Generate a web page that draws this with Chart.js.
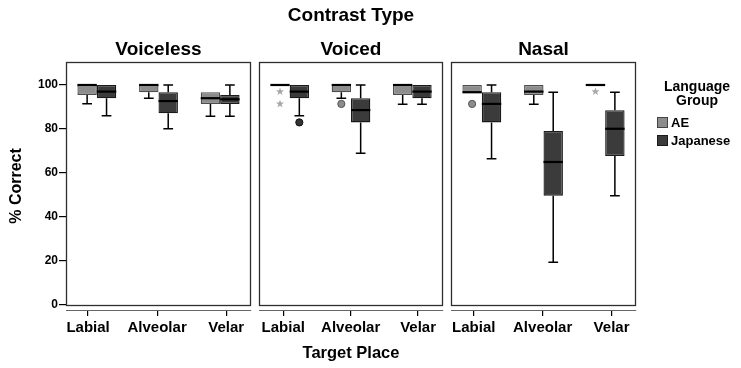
<!DOCTYPE html>
<html>
<head>
<meta charset="utf-8">
<script src="https://cdn.jsdelivr.net/npm/chart.js@4/dist/chart.umd.min.js"></script>
<style>
  html, body { margin: 0; padding: 0; background: #fff; }
  #wrap { position: relative; width: 741px; height: 368px; overflow: hidden;
          font-family: "Liberation Sans", Arial, sans-serif; color: #000; }
  #wrap canvas { position: absolute; left: 0; top: 0; }
  .lbl { position: absolute; font-weight: bold; white-space: nowrap; line-height: 1; }
  .ctr { transform: translateX(-50%); }
  .sw { position: absolute; width: 11px; height: 11px; box-sizing: border-box; }
</style>
</head>
<body>
<div id="wrap">
  <canvas id="panel0" width="741" height="368"></canvas>
  <canvas id="panel1" width="741" height="368"></canvas>
  <canvas id="panel2" width="741" height="368"></canvas>

  <div class="lbl ctr" style="left:351px; top:5px; font-size:19px;">Contrast Type</div>
  <div class="lbl ctr" style="left:351px; top:344px; font-size:16.5px;">Target Place</div>

  <div class="lbl ctr" style="left:697px; top:79px; font-size:14px;">Language</div>
  <div class="lbl ctr" style="left:697px; top:93px; font-size:14px;">Group</div>
  <div class="sw" style="left:657px; top:117px; background:#8c8c8c; border:1px solid #444;"></div>
  <div class="lbl" style="left:671px; top:116px; font-size:13px;">AE</div>
  <div class="sw" style="left:657px; top:135px; background:#3b3b3b; border:1px solid #1a1a1a;"></div>
  <div class="lbl" style="left:671px; top:134px; font-size:13px;">Japanese</div>
</div>

<script>
const contrasts = ['Voiceless', 'Voiced', 'Nasal'];
const places = ['Labial', 'Alveolar', 'Velar'];
const groups = ['AE', 'Japanese'];
const yTicks = [0, 20, 40, 60, 80, 100];

// Five-number summaries: one row per contrast type, one entry per target place
const aeMin = [[91.5, 94.0, 85.8], [100, 94.0, 91.2], [96.7, 91.2, 100]];
const aeQ1  = [[95.5, 96.7, 91.4], [100, 96.7, 95.5], [96.7, 95.5, 100]];
const aeMed = [[100, 100, 94.0], [100, 100, 100], [96.7, 97.0, 100]];
const aeQ3  = [[100, 100, 96.7], [100, 100, 100], [100, 100, 100]];
const aeMax = [[100, 100, 96.7], [100, 100, 100], [100, 100, 100]];

const jpMin = [[86.0, 80.1, 85.8], [86.0, 69.0, 91.2], [66.5, 19.4, 49.7]];
const jpQ1  = [[94.0, 87.1, 91.4], [94.0, 83.0, 94.0], [83.0, 49.7, 67.7]];
const jpMed = [[97.0, 92.7, 93.5], [97.0, 88.6, 97.0], [91.4, 65.0, 80.1]];
const jpQ3  = [[100, 96.7, 95.5], [100, 94.0, 100], [96.7, 79.1, 88.5]];
const jpMax = [[100, 100, 100], [100, 100, 100], [100, 96.7, 96.7]];

// Outliers (circles) and extreme values (stars): [contrast, place, value]
const aeOutliers = [[1, 1, 91.4], [2, 0, 91.4]];
const aeExtremes = [[1, 0, 97.0], [1, 0, 91.4], [2, 2, 97.0]];
const jpOutliers = [[1, 0, 83.0]];
const jpExtremes = [];

const FONT = '"Liberation Sans", Arial, sans-serif';
const groupStyle = [
  { fill: '#8c8c8c', border: '#4d4d4d', dot: '#8c8c8c', dotLine: '#555', star: '#a8a8a8' },
  { fill: '#3b3b3b', border: '#1a1a1a', dot: '#333', dotLine: '#111', star: '#555' }
];
const stats = [
  [aeMin, aeQ1, aeMed, aeQ3, aeMax],
  [jpMin, jpQ1, jpMed, jpQ3, jpMax]
];
const outliers = [aeOutliers, jpOutliers];
const extremes = [aeExtremes, jpExtremes];

// Horizontal placement of each panel on the shared page
const panelPlace = [
  { padLeft: 3,   padRight: 490, tickMin: -0.32, tickMax: 2.36 },
  { padLeft: 259, padRight: 298, tickMin: -0.36, tickMax: 2.37 },
  { padLeft: 451, padRight: 105, tickMin: -0.33, tickMax: 2.355 }
];

function drawStar(ctx, x, y, r, color) {
  ctx.save();
  ctx.beginPath();
  for (let i = 0; i < 10; i++) {
    const rad = i % 2 === 0 ? r : r * 0.42;
    const a = -Math.PI / 2 + i * Math.PI / 5;
    const px = x + rad * Math.cos(a), py = y + rad * Math.sin(a);
    i === 0 ? ctx.moveTo(px, py) : ctx.lineTo(px, py);
  }
  ctx.closePath();
  ctx.fillStyle = color;
  ctx.fill();
  ctx.restore();
}

function makePanel(p) {
  // panel frame (top of plot area down to the zero line) and the panel heading
  const framePlugin = {
    id: 'frame' + p,
    beforeDatasetsDraw(chart) {
      const { ctx, chartArea: a, scales: { y } } = chart;
      const y0 = y.getPixelForValue(0);
      ctx.save();
      ctx.strokeStyle = '#2e2e2e';
      ctx.lineWidth = 1.3;
      ctx.strokeRect(a.left + 0.5, a.top + 0.5, a.right - a.left - 1, y0 - a.top);
      ctx.fillStyle = '#000';
      ctx.font = 'bold 19px ' + FONT;
      ctx.textAlign = 'center';
      ctx.textBaseline = 'alphabetic';
      ctx.fillText(contrasts[p], (a.left + a.right) / 2, a.top - 7);
      ctx.restore();
    }
  };

  // whiskers, medians, outliers and extremes for each box
  const whiskerPlugin = {
    id: 'whiskers' + p,
    afterDatasetsDraw(chart) {
      const { ctx, scales: { y } } = chart;
      ctx.save();
      chart.data.datasets.forEach((ds, d) => {
        const meta = chart.getDatasetMeta(d);
        meta.data.forEach((bar, j) => {
          const [mn, q1, md, q3, mx] = stats[d].map(a => a[p][j]);
          const x = bar.x, w = bar.width, cap = w / 2;
          ctx.strokeStyle = '#000';
          ctx.lineWidth = 1.5;
          ctx.beginPath();
          if (mx > q3) {
            ctx.moveTo(x, y.getPixelForValue(q3));
            ctx.lineTo(x, y.getPixelForValue(mx));
            ctx.moveTo(x - cap / 2, y.getPixelForValue(mx));
            ctx.lineTo(x + cap / 2, y.getPixelForValue(mx));
          }
          if (mn < q1) {
            ctx.moveTo(x, y.getPixelForValue(q1));
            ctx.lineTo(x, y.getPixelForValue(mn));
            ctx.moveTo(x - cap / 2, y.getPixelForValue(mn));
            ctx.lineTo(x + cap / 2, y.getPixelForValue(mn));
          }
          ctx.stroke();
          ctx.lineWidth = 2.2;
          ctx.beginPath();
          ctx.moveTo(x - w / 2, y.getPixelForValue(md));
          ctx.lineTo(x + w / 2, y.getPixelForValue(md));
          ctx.stroke();
        });
        const st = groupStyle[d];
        outliers[d].filter(o => o[0] === p).forEach(([, j, v]) => {
          const bar = meta.data[j];
          ctx.beginPath();
          ctx.arc(bar.x, y.getPixelForValue(v), 3.6, 0, Math.PI * 2);
          ctx.fillStyle = st.dot;
          ctx.fill();
          ctx.lineWidth = 1;
          ctx.strokeStyle = st.dotLine;
          ctx.stroke();
        });
        extremes[d].filter(o => o[0] === p).forEach(([, j, v]) => {
          const bar = meta.data[j];
          drawStar(ctx, bar.x, y.getPixelForValue(v), 4.2, st.star);
        });
      });
      ctx.restore();
    }
  };

  const place = panelPlace[p];
  const showY = p === 0;

  return new Chart(document.getElementById('panel' + p), {
    type: 'bar',
    data: {
      labels: places,
      datasets: groups.map((g, d) => ({
        label: g,
        data: places.map((_, j) => [stats[d][1][p][j], stats[d][3][p][j]]),
        backgroundColor: groupStyle[d].fill,
        borderColor: groupStyle[d].border,
        borderWidth: 1.3,
        borderSkipped: false,
        categoryPercentage: 0.63,
        barPercentage: 1.0
      }))
    },
    options: {
      responsive: false,
      animation: false,
      devicePixelRatio: 1,
      layout: { padding: { left: place.padLeft, right: place.padRight, top: 62, bottom: 18 } },
      plugins: {
        legend: { display: false },
        tooltip: { enabled: false },
        title: { display: false }
      },
      scales: {
        x: { type: 'category', display: false },
        xPlace: {
          type: 'linear',
          position: 'bottom',
          offset: false,
          min: place.tickMin,
          max: place.tickMax,
          afterBuildTicks: s => { s.ticks = places.map((_, i) => ({ value: i })); },
          afterFit: s => { s.height = 40; },
          grid: { offset: false, drawOnChartArea: false, drawTicks: true, tickLength: 6, color: '#000', lineWidth: 1.2 },
          border: { display: true, color: '#666', width: 1 },
          ticks: {
            callback: v => places[v],
            color: '#000',
            font: { family: FONT, size: 15, weight: 'bold' },
            padding: 3,
            maxRotation: 0,
            autoSkip: false
          }
        },
        y: {
          display: showY,
          min: -2.27,
          max: 110.45,
          afterBuildTicks: s => { s.ticks = yTicks.map(v => ({ value: v })); },
          afterFit: s => { if (showY) s.width = 63; },
          grid: { drawOnChartArea: false, drawTicks: true, tickLength: 7, color: '#000', lineWidth: 1.2 },
          border: { display: false },
          ticks: {
            color: '#000',
            font: { family: FONT, size: 12, weight: 'bold' },
            padding: 1
          },
          title: {
            display: true,
            text: '% Correct',
            color: '#000',
            font: { family: FONT, size: 16, weight: 'bold', lineHeight: 1.2 },
            padding: { top: 4, bottom: 0 }
          }
        }
      }
    },
    plugins: [framePlugin, whiskerPlugin]
  });
}

contrasts.forEach((_, p) => makePanel(p));
</script>
</body>
</html>
